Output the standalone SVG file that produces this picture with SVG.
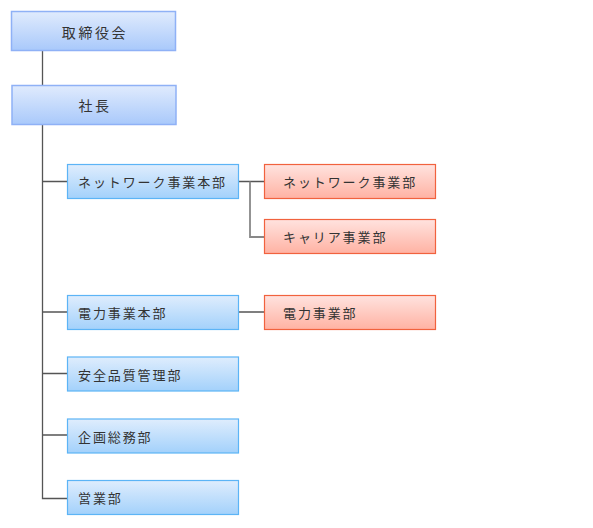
<svg xmlns="http://www.w3.org/2000/svg" width="593" height="528" viewBox="0 0 593 528">
<defs>
<linearGradient id="gTop" x1="0" y1="0" x2="0" y2="1">
<stop offset="0" stop-color="#e0ebfd"/>
<stop offset="1" stop-color="#a9c9fb"/>
</linearGradient>
<linearGradient id="gSub" x1="0" y1="0" x2="0" y2="1">
<stop offset="0" stop-color="#dfedfd"/>
<stop offset="1" stop-color="#a3d1fb"/>
</linearGradient>
<linearGradient id="gRed" x1="0" y1="0" x2="0" y2="1">
<stop offset="0" stop-color="#ffe3df"/>
<stop offset="1" stop-color="#ffb2a3"/>
</linearGradient>
</defs>
<style>
.top{fill:url(#gTop);stroke:#8fb1f6;stroke-width:1.5}
.sub{fill:url(#gSub);stroke:#5cb4f6;stroke-width:1.2}
.red{fill:url(#gRed);stroke:#f1623e;stroke-width:1.2}
.t{font-family:"Noto Sans CJK JP","Noto Sans CJK SC",sans-serif;fill:#333}
.tt{font-size:14px;letter-spacing:2.6px;text-anchor:middle}
.ts{font-size:13px;letter-spacing:1.9px}
.ln{fill:none;stroke:#555;stroke-width:1.3}
.ln2{fill:none;stroke:#888;stroke-width:1.8}
</style>
<rect width="593" height="528" fill="#fff"/>
<g id="connectors">
<path class="ln" d="M42.5 51V85"/>
<path class="ln" d="M42.5 125V498.5H67"/>
<path class="ln" d="M42.5 181.5H67M42.5 312H67M42.5 373.5H67M42.5 435H67"/>
<path class="ln" d="M239 181.5H264M239 312H264"/>
<path class="ln2" d="M250 181.5V237H264"/>
</g>
<g id="n1"><rect class="top" x="11.5" y="11.5" width="164" height="39"/><text class="t tt" x="95" y="37.5">取締役会</text></g>
<g id="n2"><rect class="top" x="12" y="85.5" width="164" height="39"/><text class="t tt" x="95" y="111">社長</text></g>
<g id="n3"><rect class="sub" x="67.5" y="164.5" width="171" height="34"/><text class="t ts" x="78" y="187">ネットワーク事業本部</text></g>
<g id="n4"><rect class="red" x="264.5" y="164.5" width="171" height="34"/><text class="t ts" x="283" y="187">ネットワーク事業部</text></g>
<g id="n5"><rect class="red" x="264.5" y="219.5" width="171" height="34"/><text class="t ts" x="283" y="242">キャリア事業部</text></g>
<g id="n6"><rect class="sub" x="67.5" y="295.5" width="171" height="34"/><text class="t ts" x="78" y="318">電力事業本部</text></g>
<g id="n7"><rect class="red" x="264.5" y="295.5" width="171" height="34"/><text class="t ts" x="283" y="318">電力事業部</text></g>
<g id="n8"><rect class="sub" x="67.5" y="357" width="171" height="34"/><text class="t ts" x="78" y="379.5">安全品質管理部</text></g>
<g id="n9"><rect class="sub" x="67.5" y="419" width="171" height="34"/><text class="t ts" x="78" y="441.5">企画総務部</text></g>
<g id="n10"><rect class="sub" x="67.5" y="480.5" width="171" height="34"/><text class="t ts" x="78" y="503">営業部</text></g>
</svg>
